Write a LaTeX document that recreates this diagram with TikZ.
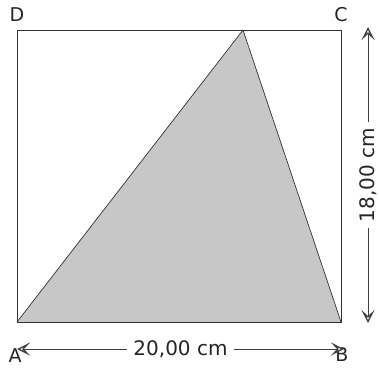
\documentclass[tikz,border=0pt]{standalone}
\usepackage{fontspec}
\setmainfont{DejaVu Sans}
\usetikzlibrary{arrows.meta}
\begin{document}
\begin{tikzpicture}[x=1pt,y=1pt,
  edge/.style={draw=black!80,line width=0.9pt},
  lbl/.style={font=\fontsize{19}{19}\selectfont,text=black!85,inner sep=0pt},
  dimtip/.tip={Stealth[open,length=13pt,width=13pt,inset=6pt,line width=1.3pt,fill=white]},
  dim/.style={draw=black!75,line width=0.9pt,dimtip-dimtip},
  dimlbl/.style={font=\fontsize{20}{20}\selectfont,text=black!85,fill=white,inner xsep=6pt,inner ysep=0pt}]
\useasboundingbox (0,0) rectangle (379,-373);
\coordinate (A) at (17,-322);
\coordinate (B) at (341,-322);
\coordinate (C) at (341,-30);
\coordinate (D) at (17,-30);
\coordinate (E) at (243,-30);
\fill[black!22] (A) -- (B) -- (E) -- cycle;
\draw[edge] (A) -- (B) -- (C) -- (D) -- cycle;
\draw[edge,line width=0.7pt] (A) -- (E) -- (B);
\node[lbl] (lD) at (17,-15) {D};
\node[lbl] (lC) at (341,-15) {C};
\node[lbl] (lA) at (15,-356) {A};
\node[lbl] (lB) at (342,-355) {B};
\coordinate (h1) at (17,-349);
\coordinate (h2) at (344,-349);
\draw[dim] (h1) -- node[dimlbl] (w) {20,00 cm} (h2);
\coordinate (v1) at (368,-27);
\coordinate (v2) at (368,-323);
\draw[dim] (v1) -- node[dimlbl,rotate=90] (h) {18,00 cm} (v2);
\end{tikzpicture}
\end{document}
